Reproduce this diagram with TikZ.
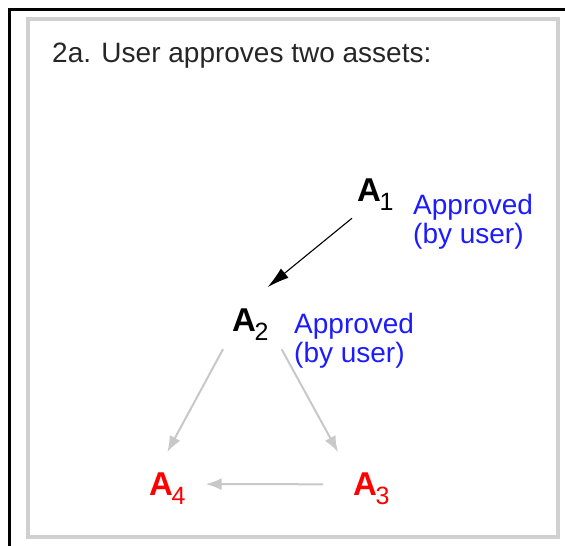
\documentclass[tikz,border=0pt]{standalone}
\usepackage{fontspec}
\setmainfont{Liberation Sans}
\usetikzlibrary{arrows.meta, positioning, calc}
\definecolor{frameg}{HTML}{D0D0D0}
\definecolor{edgeg}{HTML}{C8C8C8}
\definecolor{apblue}{HTML}{1C1CFF}
\definecolor{assetred}{HTML}{FF0000}
\newcommand{\assetlbl}[1]{{\fontsize{33}{33}\selectfont\bfseries A}\kern-1.5pt{\fontsize{25}{25}\selectfont\raisebox{-9pt}{#1}}}
\tikzset{
  asset/.style={inner sep=0pt, anchor=base west},
  approved/.style={inner sep=0pt, anchor=base west, align=left, text=apblue,
    font=\fontsize{28}{29}\selectfont},
  userarrow/.style={black, line width=1.1pt, -{Latex[length=22pt,width=12pt]}},
  greyarrow/.style={edgeg, line width=2pt, -{Latex[length=16pt,width=12pt]}},
}
\begin{document}
\begin{tikzpicture}[x=1pt, y=-1pt]
  \useasboundingbox (0,0) rectangle (565,546);
  % frames
  \draw[line width=3pt] (9.5,546) -- (9.5,9.5) -- (565,9.5);
  \draw[frameg, line width=4pt] (27.5,19) rectangle (558,537);

  \node[inner sep=0pt, anchor=base west, text=black!85, font=\fontsize{28}{32}\selectfont]
    (title) at (52,62) {2a. User approves two assets:};

  % assets
  \node[asset] (a1) at (357,201) {\assetlbl{1}};
  \node[asset] (a2) at (232,331) {\assetlbl{2}};
  \node[asset, text=assetred] (a3) at (353,495) {\assetlbl{3}};
  \node[asset, text=assetred] (a4) at (149,495) {\assetlbl{4}};

  % last line sets the base
  \node[approved] (ap1) at (413,243) {Approved\\(by user)};
  \node[approved] (ap2) at (294,362) {Approved\\(by user)};

  % links
  \draw[userarrow] ([xshift=-5pt,yshift=-8pt]a1.south west) -- ([xshift=-1pt,yshift=21pt]a2.north east);
  \draw[greyarrow] ([xshift=-9pt,yshift=-9pt]a2.south west) -- ([yshift=20pt]a4.north);
  \draw[greyarrow] ([xshift=13pt,yshift=-9pt]a2.south east) -- ([xshift=-15pt,yshift=20pt]a3.north west);
  \draw[greyarrow] ([xshift=-30pt,yshift=4pt]a3.west) -- ([xshift=20pt,yshift=4pt]a4.east);
\end{tikzpicture}
\end{document}
